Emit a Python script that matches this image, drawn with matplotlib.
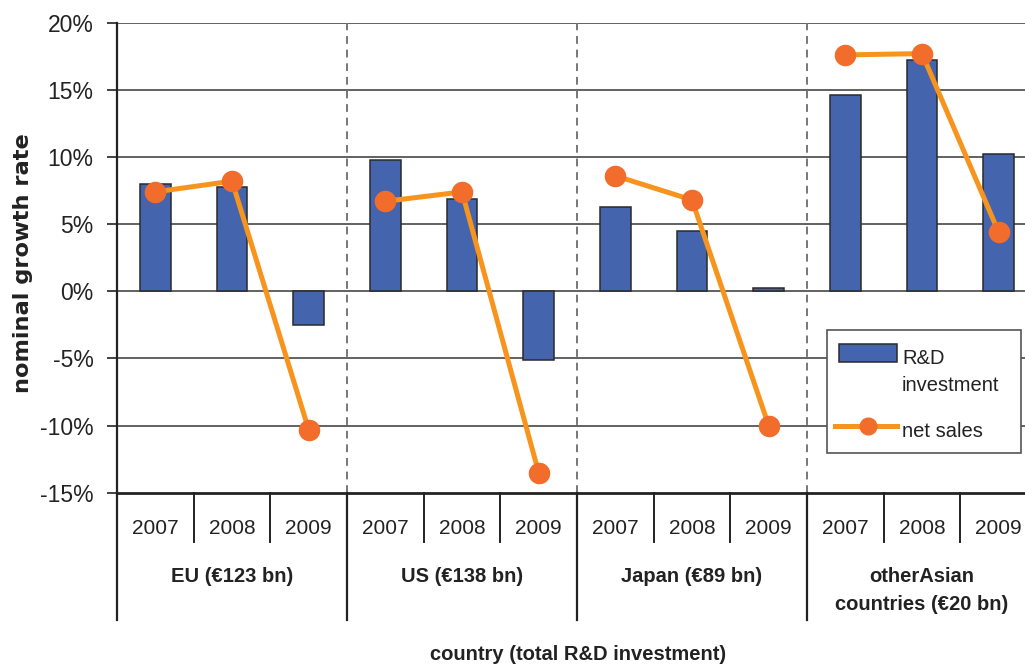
import matplotlib
matplotlib.use('Agg')
import matplotlib.pyplot as plt
import matplotlib.transforms as mtransforms
from matplotlib.lines import Line2D
from matplotlib.patches import Rectangle

# ---- data ----
groups = ['EU (€123 bn)', 'US (€138 bn)', 'Japan (€89 bn)', 'otherAsian\ncountries (€20 bn)']
years = ['2007', '2008', '2009']
rd_investment = [8.0, 7.8, -2.5, 9.8, 6.9, -5.1, 6.3, 4.5, 0.25, 14.6, 17.25, 10.25]
net_sales = [7.4, 8.2, -10.3, 6.7, 7.4, -13.5, 8.6, 6.8, -10.0, 17.6, 17.7, 4.4]
y_ticks = [-15, -10, -5, 0, 5, 10, 15, 20]
legend_labels = ['R&D', 'investment', 'net sales']

plt.rcParams['font.family'] = ['Liberation Sans', 'DejaVu Sans']

bar_color = '#4464AD'
line_color = '#F7941E'
marker_color = '#F26D2B'
text_color = '#222222'

W, H = 1025, 666
fig = plt.figure(figsize=(W / 100, H / 100), dpi=100)
left_px, right_px, top_px, bot_px = 117, 1037, 22.7, 492.7
ax = fig.add_axes([left_px / W, 1 - bot_px / H, (right_px - left_px) / W, (bot_px - top_px) / H])

def fx(px):
    return px / W

def fy(py):
    return 1 - py / H

n_years = len(years)
n = len(rd_investment)
x = list(range(n))

ax.set_xlim(-0.5, n - 0.5)
ax.set_ylim(-15, 20)

# gridlines
for t in y_ticks[1:]:
    ax.axhline(t, color='#555555', lw=1.3, zorder=0.5)

# group separators (dashed)
for g in range(1, len(groups)):
    ax.axvline(g * n_years - 0.5, color='#777777', lw=1.4, ls=(0, (4, 3)), zorder=0.6)

ax.bar(x, rd_investment, width=0.4, color=bar_color, edgecolor='#2a2a2a', lw=1.1, zorder=2)

for g in range(len(groups)):
    xs = x[g * n_years:(g + 1) * n_years]
    ys = net_sales[g * n_years:(g + 1) * n_years]
    ax.plot(xs, ys, color=line_color, lw=3.6, zorder=3)
    ax.plot(xs, ys, ls='none', marker='o', ms=14.5, color=marker_color, mec=marker_color, zorder=4)

# spines
for s in ['top', 'right']:
    ax.spines[s].set_visible(False)
ax.spines['left'].set_linewidth(1.6)
ax.spines['left'].set_color(text_color)
ax.spines['bottom'].set_linewidth(2.0)
ax.spines['bottom'].set_color(text_color)

ax.set_yticks(y_ticks)
ax.set_yticklabels([f'{t}%' for t in y_ticks], fontsize=16.5, color=text_color)
ax.tick_params(axis='y', direction='out', length=7, width=1.2, color=text_color, pad=10)
ax.set_xticks([])

# category table below axis
trans = mtransforms.blended_transform_factory(ax.transData, ax.transAxes)
ah = bot_px - top_px

def ay(py):
    return (bot_px - py) / ah

ax.plot([-0.5, -0.5], [0, ay(620)], transform=trans, color=text_color, lw=1.6, clip_on=False)
for g in range(len(groups)):
    xb = g * n_years - 0.5
    if g > 0:
        ax.plot([xb, xb], [0, ay(620)], transform=trans, color=text_color, lw=1.6, clip_on=False)
    for k in range(1, n_years):
        ax.plot([xb + k, xb + k], [0, ay(542)], transform=trans, color=text_color, lw=1.4, clip_on=False)
    for k, yr in enumerate(years):
        ax.text(xb + 0.5 + k, ay(529), yr, transform=trans, ha='center', va='center',
                fontsize=15, color=text_color)
    ax.text(xb + n_years / 2, ay(567), groups[g], transform=trans, ha='center', va='top',
            fontsize=14.5, fontweight='bold', color=text_color, linespacing=1.62)
ax.plot([n - 0.5, n - 0.5], [0, ay(620)], transform=trans, color=text_color, lw=1.6, clip_on=False)

fig.text(fx(578), fy(655), 'country (total R&D investment)', ha='center', va='center',
         fontsize=14.5, fontweight='bold', color=text_color)
fig.text(fx(23), fy(263), 'nominal growth rate', ha='center', va='center', rotation=90,
         fontsize=16.2, fontweight='bold', color=text_color, family=['DejaVu Sans'])

# legend (drawn as a boxed key)
fig.add_artist(Rectangle((fx(826.7), fy(452.7)), fx(1020.7) - fx(826.7), fy(330) - fy(452.7),
                         transform=fig.transFigure, facecolor='white', edgecolor='#555555',
                         lw=1.2, zorder=10))
fig.add_artist(Rectangle((fx(839.3), fy(361.7)), fx(896.7) - fx(839.3), fy(344) - fy(361.7),
                         transform=fig.transFigure, facecolor=bar_color, edgecolor='#2a2a2a',
                         lw=1.1, zorder=11))
fig.add_artist(Line2D([fx(835), fx(896.7)], [fy(426), fy(426)], transform=fig.transFigure,
                      color=line_color, lw=3.6, zorder=11))
fig.add_artist(Line2D([fx(867.7)], [fy(426)], transform=fig.transFigure, ls='none',
                      marker='o', ms=12, color=marker_color, mec=marker_color, zorder=12))
fig.text(fx(902), fy(364), legend_labels[0], ha='left', va='baseline', fontsize=14.5,
         color=text_color, zorder=12)
fig.text(fx(902), fy(391), legend_labels[1], ha='left', va='baseline', fontsize=14.5,
         color=text_color, zorder=12)
fig.text(fx(902), fy(436.7), legend_labels[2], ha='left', va='baseline', fontsize=14.5,
         color=text_color, zorder=12)

fig.savefig('out.png', dpi=100)
